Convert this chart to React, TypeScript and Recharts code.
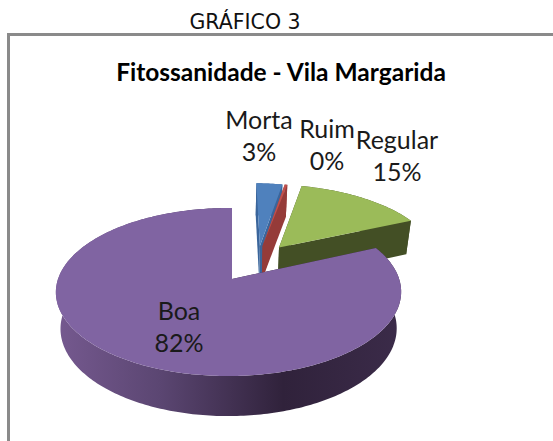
import React from 'react';
import { PieChart, Pie } from 'recharts';

const categories = ['Morta', 'Ruim', 'Regular', 'Boa'];
const shares = [3, 0.3, 15, 81.7];
const chartRows = categories.map((name, i) => ({ name, value: shares[i] }));

const W = 553;
const H = 441;
const FONT = 'Lato, "Open Sans", sans-serif';

// Perspective model of the tilted pie disc
const VIEW = {
  ax: 232, ay: 279, pv: 0.155, pu: 0.02,
  topRx: 170.5, topRy: 82,
  botRx: 166, botRy: 85.4, botDy: 36,
};

type Look = { top: string; side: string; rim: string; eu: number; ev: number; lx: number; ly: number };
const LOOKS: Record<string, Look> = {
  Morta: { top: '#4f81bd', side: '#3a659b', rim: '#3a659b', eu: 0.175, ev: 0.43, lx: 259, ly: 121 },
  Ruim: { top: '#c0504d', side: '#953b39', rim: '#953b39', eu: 0.192, ev: 0.43, lx: 327, ly: 130 },
  Regular: { top: '#9bbb59', side: '#434f25', rim: '#434f25', eu: 0.295, ev: 0.41, lx: 397, ly: 141 },
  Boa: { top: '#8064a2', side: '#33243f', rim: 'url(#boaRim)', eu: 0, ev: 0, lx: 179, ly: 312 },
};

function project(u: number, v: number, bottom: boolean): [number, number] {
  const d = 1 + VIEW.pv * v + VIEW.pu * u;
  if (bottom) return [VIEW.ax + (VIEW.botRx * u) / d, VIEW.ay + VIEW.botDy - (VIEW.botRy * v) / d];
  return [VIEW.ax + (VIEW.topRx * u) / d, VIEW.ay - (VIEW.topRy * v) / d];
}

function toPath(points: [number, number][]) {
  return points.map((p, i) => `${i ? 'L' : 'M'}${p[0].toFixed(2)},${p[1].toFixed(2)}`).join('') + 'Z';
}

function Slice3D(props: any) {
  const look = LOOKS[props.name ?? props.payload?.name];
  // library angles (counter-clockwise from 3 o'clock) to clock angles
  const a0 = 90 - props.startAngle;
  const a1 = 90 - props.endAngle;
  const steps = Math.max(2, Math.ceil(Math.abs(a1 - a0)));
  const angles: number[] = [];
  for (let i = 0; i <= steps; i++) angles.push(a0 + ((a1 - a0) * i) / steps);
  const at = (deg: number, bottom: boolean) => {
    const r = (deg * Math.PI) / 180;
    return project(Math.sin(r) + look.eu, Math.cos(r) + look.ev, bottom);
  };
  const apexT = project(look.eu, look.ev, false);
  const apexB = project(look.eu, look.ev, true);
  const top = [apexT, ...angles.map((a) => at(a, false))];
  const rim = [...angles.map((a) => at(a, false)), ...[...angles].reverse().map((a) => at(a, true))];
  const startFace = [apexT, at(a0, false), at(a0, true), apexB];
  const endFace = [apexT, at(a1, false), at(a1, true), apexB];
  return (
    <g>
      <path d={toPath(startFace)} fill={look.side} />
      <path d={toPath(rim)} fill={look.rim} />
      <path d={toPath(endFace)} fill={look.side} />
      <path d={toPath(top)} fill={look.top} />
    </g>
  );
}

function SliceLabel(props: any) {
  const look = LOOKS[props.name];
  return (
    <text textAnchor="middle" fontFamily={FONT} fontSize={25} fill="#1a1a1a">
      <tspan x={look.lx} y={look.ly + 8}>{props.name}</tspan>
      <tspan x={look.lx} dy={32}>{`${Math.round(props.percent * 100)}%`}</tspan>
    </text>
  );
}

export default function App() {
  return (
    <div style={{ position: 'absolute', left: 0, top: 0, width: W, height: H }}>
      <PieChart width={W} height={H} margin={{ top: 0, right: 0, bottom: 0, left: 0 }}>
        <defs>
          <linearGradient id="boaRim" gradientUnits="userSpaceOnUse" x1="57" y1="0" x2="400" y2="0">
            <stop offset="0" stopColor="#75598f" />
            <stop offset="0.3" stopColor="#5b4672" />
            <stop offset="0.66" stopColor="#30223b" />
            <stop offset="1" stopColor="#3b2b49" />
          </linearGradient>
        </defs>
        <rect x={7} y={33} width={546} height={3} fill="#8a8a8a" />
        <rect x={7} y={33} width={3} height={408} fill="#8a8a8a" />
        <text x={245} y={29} textAnchor="middle" fontFamily="'DejaVu Sans', sans-serif" fontSize={20.5} fill="#111">GRÁFICO 3</text>
        <text x={281} y={81} textAnchor="middle" fontFamily={FONT} fontWeight={700} fontSize={24.5} fill="#000">Fitossanidade - Vila Margarida</text>
        <Pie
          data={chartRows}
          dataKey="value"
          nameKey="name"
          cx={VIEW.ax}
          cy={VIEW.ay}
          outerRadius={VIEW.topRx}
          startAngle={90}
          endAngle={-270}
          isAnimationActive={false}
          shape={Slice3D}
          label={SliceLabel}
          labelLine={false}
          stroke="none"
        />
      </PieChart>
    </div>
  );
}
